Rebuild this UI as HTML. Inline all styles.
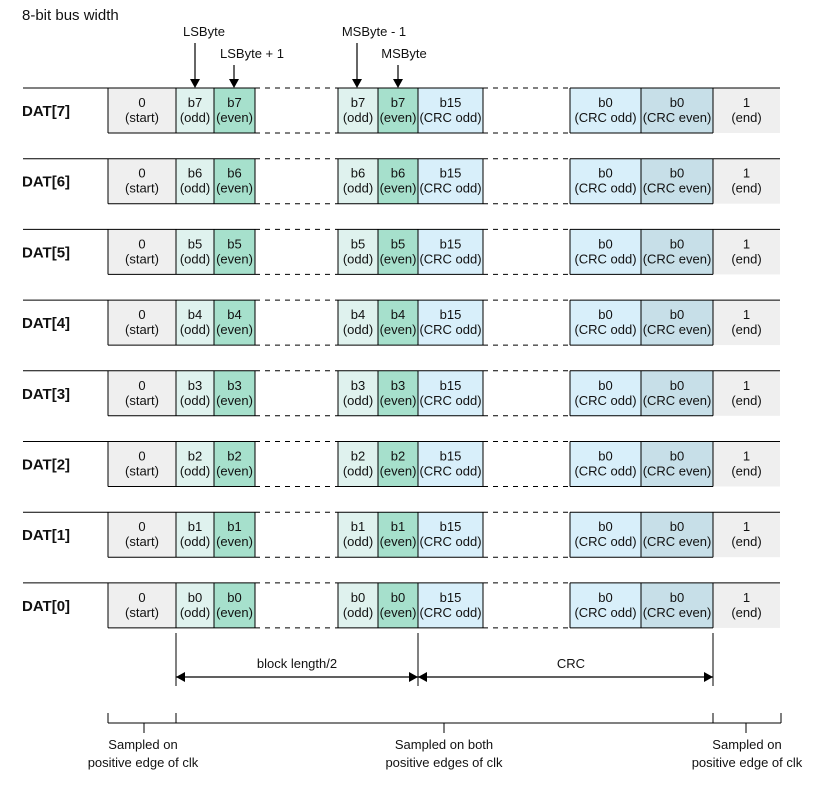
<!DOCTYPE html>
<html><head><meta charset="utf-8"><style>
body{margin:0;background:#fff}
svg{display:block;font-family:"Liberation Sans",Arial,sans-serif}
</style></head><body>
<svg id="c" width="820" height="787" viewBox="0 0 820 787">
<text x="22" y="20" font-size="15" fill="#111">8-bit bus width</text>
</svg>
<script>
const lines = [7,6,5,4,3,2,1,0];
const topLabels = ["LSByte","LSByte + 1","MSByte - 1","MSByte"];
const NS="http://www.w3.org/2000/svg";
const svg=document.getElementById('c');
function mk(tag,attrs,parent){const e=document.createElementNS(NS,tag);for(const k in attrs)e.setAttribute(k,attrs[k]);(parent||svg).appendChild(e);return e;}
function txt(x,y,s,size,anchor,weight,name){const t=mk('text',{x:x,y:y,'font-size':size,'text-anchor':anchor||'middle','font-weight':weight||'normal',fill:'#111'});t.textContent=s;


return t;}
const arrowX=[195,234,357,398];const labY=[36,58,36,58];const labX=[204,252,374,404];
for(let i=0;i<4;i++){
  txt(labX[i],labY[i],topLabels[i],13,'middle','normal','top-label');
  mk('line',{x1:arrowX[i],y1:labY[i]+7,x2:arrowX[i],y2:80,stroke:'#000','stroke-width':1.2});
  const p=mk('polygon',{points:`${arrowX[i]-5},79 ${arrowX[i]+5},79 ${arrowX[i]},88`,fill:'#000'});
  
  
}
const pitch=70.7;
lines.forEach((n,i)=>{
  const y=88+i*pitch, h=45;
  const g=mk('g',{});
  
  
  txt(22,y+28,'DAT['+n+']',15,'start','bold','line-label');
  const cells=[
    [108,176,'#efefef','0','(start)'],
    [176,214,'#dff2ee','b'+n,'(odd)'],
    [214,255,'#a6e0cc','b'+n,'(even)'],
    [338,378,'#dff2ee','b'+n,'(odd)'],
    [378,418,'#a6e0cc','b'+n,'(even)'],
    [418,483,'#d8effa','b15','(CRC odd)'],
    [570,641,'#d8effa','b0','(CRC odd)'],
    [641,713,'#c7dfe8','b0','(CRC even)'],
    [713,780,'#efefef','1','(end)']
  ];
  cells.forEach((c,j)=>{
    const r=mk('rect',{x:c[0],y:y,width:c[1]-c[0],height:h,fill:c[2]},g);
    
    
    if(j<8) mk('line',{x1:c[0],y1:y,x2:c[0],y2:y+h,stroke:'#000','stroke-width':1},g);
    txt((c[0]+c[1])/2,y+19,c[3],13,'middle','normal','cell-bit');
    txt((c[0]+c[1])/2,y+34,c[4],13,'middle','normal','cell-desc');
  });
  [255,483,713].forEach(x=>mk('line',{x1:x,y1:y,x2:x,y2:y+h,stroke:'#000','stroke-width':1},g));
  mk('line',{x1:23,y1:y,x2:255,y2:y,stroke:'#000','stroke-width':1},g);
  mk('line',{x1:338,y1:y,x2:483,y2:y,stroke:'#000','stroke-width':1},g);
  mk('line',{x1:570,y1:y,x2:780,y2:y,stroke:'#000','stroke-width':1},g);
  mk('line',{x1:108,y1:y+h,x2:255,y2:y+h,stroke:'#000','stroke-width':1},g);
  mk('line',{x1:338,y1:y+h,x2:483,y2:y+h,stroke:'#000','stroke-width':1},g);
  mk('line',{x1:570,y1:y+h,x2:713,y2:y+h,stroke:'#000','stroke-width':1},g);
  [[255,338],[483,570]].forEach(d=>{
    mk('line',{x1:d[0],y1:y,x2:d[1],y2:y,stroke:'#000','stroke-width':1,'stroke-dasharray':'5,5'},g);
    mk('line',{x1:d[0],y1:y+h,x2:d[1],y2:y+h,stroke:'#000','stroke-width':1,'stroke-dasharray':'5,5'},g);
  });
});
[176,418,713].forEach(x=>mk('line',{x1:x,y1:633,x2:x,y2:686,stroke:'#000','stroke-width':1}));
mk('line',{x1:176,y1:677,x2:713,y2:677,stroke:'#000','stroke-width':1.2});
[[176,1],[418,-1],[418,1],[713,-1]].forEach(a=>{const x=a[0],d=a[1];mk('polygon',{points:`${x},677 ${x+9*d},672 ${x+9*d},682`,fill:'#000'});});
txt(297,668,'block length/2',13,'middle','normal','block-length-label');
txt(571,668,'CRC',13,'middle','normal','crc-label');
mk('line',{x1:108,y1:723,x2:781,y2:723,stroke:'#000','stroke-width':1});
[108,176,713,781].forEach(x=>mk('line',{x1:x,y1:713,x2:x,y2:723,stroke:'#000','stroke-width':1}));
[144,444,746].forEach(x=>mk('line',{x1:x,y1:723,x2:x,y2:733,stroke:'#000','stroke-width':1}));
[[143,'Sampled on','positive edge of clk'],[444,'Sampled on both','positive edges of clk'],[747,'Sampled on','positive edge of clk']].forEach(s=>{
  txt(s[0],749,s[1],13,'middle','normal','sampling-note');
  txt(s[0],767,s[2],13,'middle','normal','sampling-note');
});
</script>
</body></html>
